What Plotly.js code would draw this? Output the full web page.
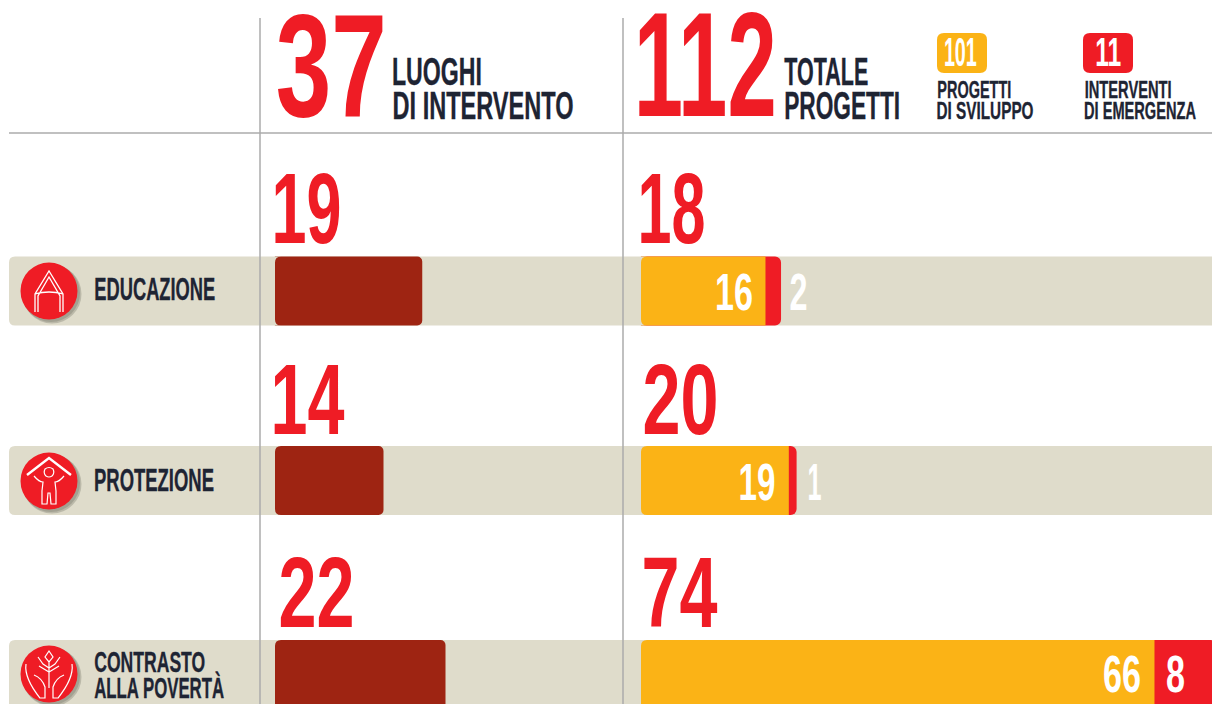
<!DOCTYPE html>
<html>
<head>
<meta charset="utf-8">
<script src="https://cdn.plot.ly/plotly-3.0.1.min.js"></script>
<style>html,body{margin:0;padding:0;background:#fff;overflow:hidden}#chart{width:1212px;height:704px}</style>
</head>
<body>
<div id="chart"></div>
<script>
// ---- data ----
const categories = ['EDUCAZIONE', 'PROTEZIONE', 'CONTRASTO ALLA POVERTÀ'];
const luoghi = [19, 14, 22];
const sviluppo = [16, 19, 66];
const emergenza = [2, 1, 8];
const totali = [18, 20, 74];
const totaleLuoghi = 37, totaleProgetti = 112, totaleSviluppo = 101, totaleEmergenza = 11;

// ---- style ----
const W = 1212, H = 704;
const RED = '#EF1C25', ORANGE = '#FBB316', BROWN = '#9E2412', BEIGE = '#DFDCCB', DARK = '#1E2433', RULE = '#ABABAB';
const FONT = '"Liberation Sans Narrow", "Liberation Sans", sans-serif';
const ROW0 = 290.5, ROWSTEP = 191.5, BARPX = 69;
const rowCentres = [291, 480.5, 674.5];
const px = (x, y) => (x / W).toFixed(5) + ',' + (1 - y / H).toFixed(5);
const P = (s, cx, cy) => s.replace(/(-?[\d.]+),(-?[\d.]+)/g, (m, a, b) => px(+a + cx, +b + cy));
const rr = (x0, y0, x1, y1, r) => P(`M${x0 + r},${y0} L${x1 - r},${y0} Q${x1},${y0} ${x1},${y0 + r} L${x1},${y1 - r} Q${x1},${y1} ${x1 - r},${y1} L${x0 + r},${y1} Q${x0},${y1} ${x0},${y1 - r} L${x0},${y0 + r} Q${x0},${y0} ${x0 + r},${y0} Z`, 0, 0);
const base = {xref: 'paper', yref: 'paper', type: 'path'};
const fillS = (path, color, layer) => ({...base, path, fillcolor: color, line: {width: 0}, layer: layer || 'below'});
const lineS = (path, w) => ({...base, path, line: {color: '#FFFFFF', width: w || 1.4}, fillcolor: 'rgba(0,0,0,0)', layer: 'above'});
const rule = (x0, y0, x1, y1) => ({type: 'line', xref: 'paper', yref: 'paper', x0: x0 / W, x1: x1 / W, y0: 1 - y0 / H, y1: 1 - y1 / H, line: {color: RULE, width: 1.5}, layer: 'above'});
const circle = (cx, cy, r, color, op) => ({type: 'circle', xref: 'paper', yref: 'paper', x0: (cx - r) / W, x1: (cx + r) / W, y0: 1 - (cy + r) / H, y1: 1 - (cy - r) / H, fillcolor: color, line: {width: 0}, layer: 'above', opacity: op === undefined ? 1 : op});
// concave mask that rounds the base corners of a bar
const corner = (x, y, sy, r) => fillS(P(`M${x - 0.5},${y} L${x + r},${y} Q${x},${y} ${x},${y + sy * r} L${x - 0.5},${y + sy * r} Z`, 0, 0), BEIGE, 'above');

const shapes = [];
rowCentres.forEach(m => {
  shapes.push(fillS(rr(9, m - 34.5, 1240, m + 34.5, 6), BEIGE));
  [275, 641].forEach(x => {
    shapes.push(corner(x, m - BARPX / 2, 1, 6));
    if (m + BARPX / 2 < H) shapes.push(corner(x, m + BARPX / 2, -1, 6));
  });
});
shapes.push(rule(9, 133, W, 133), rule(260, 18, 260, H), rule(623, 18, 623, H));
shapes.push(fillS(rr(937, 33, 987, 73, 7), ORANGE, 'above'), fillS(rr(1083, 33, 1133, 73, 7), RED, 'above'));

// icons
[291, 481, 674].forEach(cy => {
  shapes.push(circle(52, cy + 3, 29.5, '#6a6a5e', 0.3), circle(51, cy + 2, 29, '#6a6a5e', 0.3), circle(49, cy, 28.5, RED));
});
// education
shapes.push(lineS(P('M-14,21 L-14,3 L0,-20 L14,3 L14,21 M-14,3 Q0,-1 14,3 M-11,21 L-11,5 L0,-14 L11,5 L11,21', 49, 291), 1.3));
// protection
shapes.push(lineS(P('M-22,-6 L0,-23 L22,-6', 49, 481), 2.4));
shapes.push(lineS(P('M-4,-12 Q0,-15 4,-12 Q6,-8 3,-5 Q0,-3 -3,-5 Q-6,-8 -4,-12 Z M-15,-5 Q-10,1 -6,1 L-7,10 L-7,23 L-2,23 L-1,12 L1,12 L2,23 L7,23 L7,10 L6,1 Q10,1 15,-5', 49, 481), 1.2));
// poverty
shapes.push(lineS(P('M-23,-10 Q-25,4 -9,24 L-4,24 L-4,13 Q-7,4 -15,1 M23,-10 Q25,4 9,24 L4,24 L4,13 Q7,4 15,1 M0,-23 L-4,-17 L0,-12 L4,-17 Z M-11,-17 L-6,-10 L0,-6 L6,-10 L11,-17 M-10,-8 L0,-2 L10,-8 M0,-12 L0,14', 49, 674), 1.2));

// ---- labels: text, left px, right px, centre y px, font size, colour ----
const labels = [
  [String(totaleLuoghi), 275, 386, 65.5, 146, RED],
  [String(totaleProgetti), 633, 776, 64.5, 149, RED],
  ['LUOGHI', 392, 482, 72, 38, DARK],
  ['DI INTERVENTO', 392, 573, 106, 38, DARK],
  ['TOTALE', 784, 868, 72, 38, DARK],
  ['PROGETTI', 784, 900, 106, 38, DARK],
  [String(totaleSviluppo), 944, 977, 52, 40, '#FFFFFF'],
  [String(totaleEmergenza), 1095, 1121, 52, 40, '#FFFFFF'],
  ['PROGETTI', 937, 1011, 90, 24, DARK],
  ['DI SVILUPPO', 937, 1034, 110.5, 24, DARK],
  ['INTERVENTI', 1084, 1171, 90, 24, DARK],
  ['DI EMERGENZA', 1084, 1196, 110.5, 24, DARK],
  [categories[0], 94, 215, 289.5, 32, DARK],
  [categories[1], 94, 214, 479.5, 32, DARK],
  ['CONTRASTO', 94, 205, 661.5, 30, DARK],
  ['ALLA POVERTÀ', 94, 224, 687.5, 30, DARK],
  [String(luoghi[0]), 271, 341, 208, 100, RED],
  [String(luoghi[1]), 271, 345, 399, 100, RED],
  [String(luoghi[2]), 278, 354, 592, 100, RED],
  [String(totali[0]), 637, 705, 208, 100, RED],
  [String(totali[1]), 642, 718, 399, 100, RED],
  [String(totali[2]), 642, 718, 592, 100, RED],
  [String(sviluppo[0]), 715, 753, 292, 52, '#FFFFFF'],
  [String(emergenza[0]), 789, 807, 292, 52, '#FFFFFF'],
  [String(sviluppo[1]), 738, 775, 482, 52, '#FFFFFF'],
  [String(emergenza[1]), 807, 821, 482, 52, '#FFFFFF'],
  [String(sviluppo[2]), 1103, 1141, 674, 52, '#FFFFFF'],
  [String(emergenza[2]), 1166, 1185, 674, 52, '#FFFFFF']
];
const annotations = labels.map(l => ({
  text: l[0], xref: 'paper', yref: 'paper',
  x: (l[1] + l[2]) / 2 / W, y: 1 - l[3] / H,
  xanchor: 'center', yanchor: 'middle', showarrow: false, borderpad: 0, borderwidth: 0,
  font: {family: FONT, size: l[4], color: l[5], weight: 700}
}));

const PX_L = 7.75, PX_R = 7.78;
const barW = BARPX / ROWSTEP;
const rowOffset = rowCentres.map((c, i) => (c - (ROW0 + ROWSTEP * i)) / ROWSTEP - barW / 2);
const barCommon = {type: 'bar', orientation: 'h', y: categories, yaxis: 'y', width: barW, offset: rowOffset, hoverinfo: 'x+y'};
const traces = [
  {...barCommon, x: luoghi, xaxis: 'x', marker: {color: BROWN, cornerradius: 5, line: {width: 0}}, name: 'Luoghi di intervento'},
  {...barCommon, x: totali, xaxis: 'x2', marker: {color: RED, cornerradius: 6, line: {width: 0}}, name: 'Totale progetti'},
  {...barCommon, x: sviluppo, xaxis: 'x2', marker: {color: ORANGE, cornerradius: 6, line: {width: 0}}, name: 'Progetti di sviluppo'}
];
const hidden = {showgrid: false, zeroline: false, showticklabels: false, ticks: '', showline: false, fixedrange: true};
const layout = {
  width: W, height: H, margin: {l: 0, r: 0, t: 0, b: 0, pad: 0},
  paper_bgcolor: '#FFFFFF', plot_bgcolor: 'rgba(0,0,0,0)',
  showlegend: false, barmode: 'overlay',
  xaxis: {...hidden, domain: [0, 1], range: [-275 / PX_L, (W - 275) / PX_L]},
  xaxis2: {...hidden, domain: [0, 1], overlaying: 'x', range: [-641 / PX_R, (W - 641) / PX_R]},
  yaxis: {...hidden, type: 'category', categoryorder: 'array', categoryarray: categories, range: [(H - ROW0) / ROWSTEP, -ROW0 / ROWSTEP]},
  shapes, annotations
};
Plotly.newPlot('chart', traces, layout, {displayModeBar: false, staticPlot: true}).then(() => {
  // squeeze each label horizontally to the condensed width of the original type
  document.querySelectorAll('.annotation').forEach(g => {
    const i = +g.getAttribute('data-index');
    const t = g.querySelector('text');
    if (!t || !labels[i]) return;
    const target = labels[i][2] - labels[i][1];
    const natural = t.getComputedTextLength();
    const cx = parseFloat(t.getAttribute('x'));
    const sx = target / natural;
    t.setAttribute('transform', `translate(${cx},0) scale(${sx},1) translate(${-cx},0)`);
    if (labels[i][5] === DARK) { t.style.stroke = DARK; t.style.strokeWidth = '0.35px'; }
    const bg = g.querySelector('rect.bg');
    if (bg) bg.remove();
  });
});
</script>
</body>
</html>
